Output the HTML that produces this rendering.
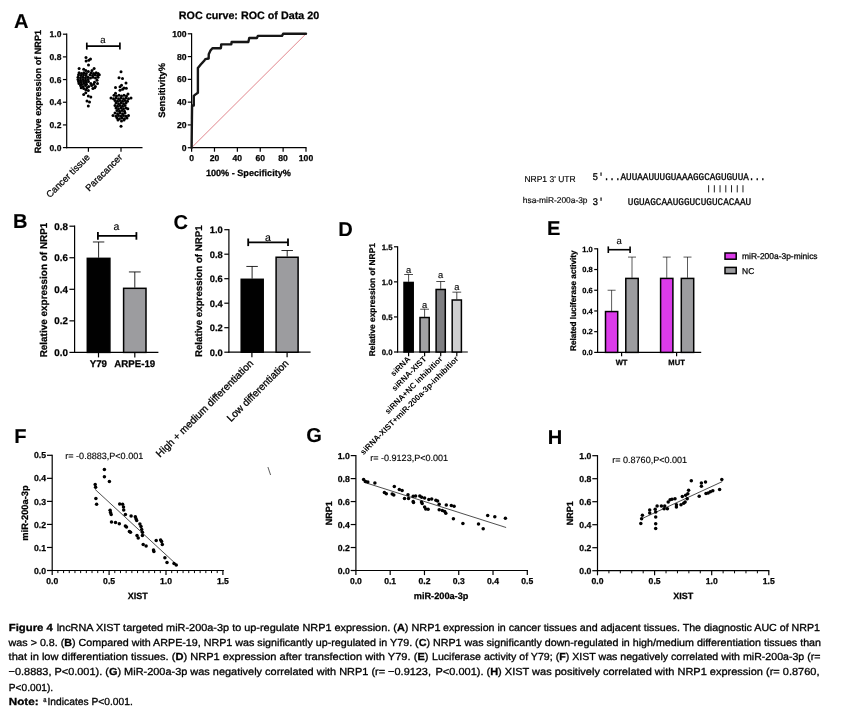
<!DOCTYPE html>
<html lang="en"><head><meta charset="utf-8"><title>Figure 4</title>
<style>html,body{margin:0;padding:0;background:#fff}body{width:846px;height:719px;overflow:hidden;position:relative}svg{position:absolute;left:0;top:0;display:block;will-change:transform;opacity:.999}text{font-family:"Liberation Sans",sans-serif;text-rendering:geometricPrecision}.mono{font-family:"Liberation Mono",monospace}</style>
</head><body>
<svg width="846" height="719" viewBox="0 0 846 719">
<rect x="0" y="0" width="846" height="719" fill="#fff"/>
<defs><filter id="soft" x="0" y="0" width="846" height="719" filterUnits="userSpaceOnUse"><feGaussianBlur stdDeviation="0.38"/></filter></defs>
<g filter="url(#soft)">
<text x="13.90" y="27.80" font-size="20.1" font-weight="bold" text-anchor="start" fill="#000" stroke="#000" stroke-width="0.12" >A</text>
<text x="12.90" y="227.60" font-size="20.1" font-weight="bold" text-anchor="start" fill="#000" stroke="#000" stroke-width="0.12" >B</text>
<text x="173.50" y="228.60" font-size="20.1" font-weight="bold" text-anchor="start" fill="#000" stroke="#000" stroke-width="0.12" >C</text>
<text x="338.30" y="236.00" font-size="20.1" font-weight="bold" text-anchor="start" fill="#000" stroke="#000" stroke-width="0.12" >D</text>
<text x="547.10" y="234.80" font-size="20.1" font-weight="bold" text-anchor="start" fill="#000" stroke="#000" stroke-width="0.12" >E</text>
<text x="14.30" y="443.00" font-size="20.1" font-weight="bold" text-anchor="start" fill="#000" stroke="#000" stroke-width="0.12" >F</text>
<text x="306.20" y="442.20" font-size="20.1" font-weight="bold" text-anchor="start" fill="#000" stroke="#000" stroke-width="0.12" >G</text>
<text x="547.70" y="444.20" font-size="20.1" font-weight="bold" text-anchor="start" fill="#000" stroke="#000" stroke-width="0.12" >H</text>
<line x1="66.70" y1="148.20" x2="66.70" y2="33.60" stroke="#000" stroke-width="1.2" stroke-linecap="butt"/>
<line x1="62.90" y1="147.60" x2="66.70" y2="147.60" stroke="#000" stroke-width="1.2" stroke-linecap="butt"/>
<text x="61.40" y="150.66" font-size="8.5" font-weight="bold" text-anchor="end" fill="#000" stroke="#000" stroke-width="0.25" >0.0</text>
<line x1="62.90" y1="124.92" x2="66.70" y2="124.92" stroke="#000" stroke-width="1.2" stroke-linecap="butt"/>
<text x="61.40" y="127.98" font-size="8.5" font-weight="bold" text-anchor="end" fill="#000" stroke="#000" stroke-width="0.25" >0.2</text>
<line x1="62.90" y1="102.24" x2="66.70" y2="102.24" stroke="#000" stroke-width="1.2" stroke-linecap="butt"/>
<text x="61.40" y="105.30" font-size="8.5" font-weight="bold" text-anchor="end" fill="#000" stroke="#000" stroke-width="0.25" >0.4</text>
<line x1="62.90" y1="79.56" x2="66.70" y2="79.56" stroke="#000" stroke-width="1.2" stroke-linecap="butt"/>
<text x="61.40" y="82.62" font-size="8.5" font-weight="bold" text-anchor="end" fill="#000" stroke="#000" stroke-width="0.25" >0.6</text>
<line x1="62.90" y1="56.88" x2="66.70" y2="56.88" stroke="#000" stroke-width="1.2" stroke-linecap="butt"/>
<text x="61.40" y="59.94" font-size="8.5" font-weight="bold" text-anchor="end" fill="#000" stroke="#000" stroke-width="0.25" >0.8</text>
<line x1="62.90" y1="34.20" x2="66.70" y2="34.20" stroke="#000" stroke-width="1.2" stroke-linecap="butt"/>
<text x="61.40" y="37.26" font-size="8.5" font-weight="bold" text-anchor="end" fill="#000" stroke="#000" stroke-width="0.25" >1.0</text>
<line x1="66.10" y1="147.60" x2="142.50" y2="147.60" stroke="#000" stroke-width="1.2" stroke-linecap="butt"/>
<line x1="88.40" y1="147.60" x2="88.40" y2="151.80" stroke="#000" stroke-width="1.2" stroke-linecap="butt"/>
<line x1="121.00" y1="147.60" x2="121.00" y2="151.80" stroke="#000" stroke-width="1.2" stroke-linecap="butt"/>
<text x="41.00" y="91.60" font-size="9.1" font-weight="bold" text-anchor="middle" transform="rotate(-90 41.00 91.60)" fill="#000" stroke="#000" stroke-width="0.25" >Relative expression of NRP1</text>
<line x1="86.80" y1="46.10" x2="119.90" y2="46.10" stroke="#000" stroke-width="1.7" stroke-linecap="butt"/>
<line x1="86.80" y1="42.60" x2="86.80" y2="49.60" stroke="#000" stroke-width="1.7" stroke-linecap="butt"/>
<line x1="119.90" y1="42.60" x2="119.90" y2="49.60" stroke="#000" stroke-width="1.7" stroke-linecap="butt"/>
<text x="102.90" y="43.00" font-size="9.5" text-anchor="middle" fill="#000" stroke="#000" stroke-width="0.15" >a</text>
<text x="90.40" y="157.90" font-size="9.35" text-anchor="end" transform="rotate(-45 90.40 157.90)" fill="#000" stroke="#000" stroke-width="0.25" >Cancer tissue</text>
<text x="123.00" y="157.90" font-size="9.35" text-anchor="end" transform="rotate(-45 123.00 157.90)" fill="#000" stroke="#000" stroke-width="0.25" >Paracancer</text>
<circle cx="86.00" cy="57.40" r="1.5" fill="#000"/>
<circle cx="90.50" cy="58.90" r="1.5" fill="#000"/>
<circle cx="88.80" cy="60.30" r="1.5" fill="#000"/>
<circle cx="86.10" cy="61.10" r="1.5" fill="#000"/>
<circle cx="88.50" cy="64.90" r="1.5" fill="#000"/>
<circle cx="79.10" cy="68.50" r="1.5" fill="#000"/>
<circle cx="83.70" cy="69.30" r="1.5" fill="#000"/>
<circle cx="94.10" cy="68.50" r="1.5" fill="#000"/>
<circle cx="85.80" cy="70.60" r="1.5" fill="#000"/>
<circle cx="88.30" cy="71.40" r="1.5" fill="#000"/>
<circle cx="92.00" cy="70.60" r="1.5" fill="#000"/>
<circle cx="79.10" cy="72.70" r="1.5" fill="#000"/>
<circle cx="81.50" cy="73.50" r="1.5" fill="#000"/>
<circle cx="83.90" cy="72.70" r="1.5" fill="#000"/>
<circle cx="86.30" cy="73.50" r="1.5" fill="#000"/>
<circle cx="91.20" cy="72.70" r="1.5" fill="#000"/>
<circle cx="93.70" cy="73.50" r="1.5" fill="#000"/>
<circle cx="96.10" cy="72.70" r="1.5" fill="#000"/>
<circle cx="98.10" cy="73.50" r="1.5" fill="#000"/>
<circle cx="78.50" cy="74.80" r="1.5" fill="#000"/>
<circle cx="81.00" cy="75.60" r="1.5" fill="#000"/>
<circle cx="83.50" cy="74.80" r="1.5" fill="#000"/>
<circle cx="86.00" cy="75.60" r="1.5" fill="#000"/>
<circle cx="90.00" cy="74.80" r="1.5" fill="#000"/>
<circle cx="92.50" cy="75.60" r="1.5" fill="#000"/>
<circle cx="95.00" cy="74.80" r="1.5" fill="#000"/>
<circle cx="97.50" cy="75.60" r="1.5" fill="#000"/>
<circle cx="99.30" cy="74.80" r="1.5" fill="#000"/>
<circle cx="78.00" cy="77.20" r="1.5" fill="#000"/>
<circle cx="80.50" cy="78.00" r="1.5" fill="#000"/>
<circle cx="83.00" cy="77.20" r="1.5" fill="#000"/>
<circle cx="85.50" cy="78.00" r="1.5" fill="#000"/>
<circle cx="88.00" cy="77.20" r="1.5" fill="#000"/>
<circle cx="90.50" cy="78.00" r="1.5" fill="#000"/>
<circle cx="93.00" cy="77.20" r="1.5" fill="#000"/>
<circle cx="95.50" cy="78.00" r="1.5" fill="#000"/>
<circle cx="98.00" cy="77.20" r="1.5" fill="#000"/>
<circle cx="78.00" cy="79.40" r="1.5" fill="#000"/>
<circle cx="80.50" cy="80.20" r="1.5" fill="#000"/>
<circle cx="83.00" cy="79.40" r="1.5" fill="#000"/>
<circle cx="85.50" cy="80.20" r="1.5" fill="#000"/>
<circle cx="88.00" cy="79.40" r="1.5" fill="#000"/>
<circle cx="97.00" cy="80.20" r="1.5" fill="#000"/>
<circle cx="78.50" cy="81.40" r="1.5" fill="#000"/>
<circle cx="81.00" cy="82.20" r="1.5" fill="#000"/>
<circle cx="83.50" cy="81.40" r="1.5" fill="#000"/>
<circle cx="86.00" cy="82.20" r="1.5" fill="#000"/>
<circle cx="88.50" cy="81.40" r="1.5" fill="#000"/>
<circle cx="94.50" cy="82.20" r="1.5" fill="#000"/>
<circle cx="79.00" cy="83.50" r="1.5" fill="#000"/>
<circle cx="81.50" cy="84.30" r="1.5" fill="#000"/>
<circle cx="84.00" cy="83.50" r="1.5" fill="#000"/>
<circle cx="86.50" cy="84.30" r="1.5" fill="#000"/>
<circle cx="90.80" cy="83.50" r="1.5" fill="#000"/>
<circle cx="93.70" cy="84.30" r="1.5" fill="#000"/>
<circle cx="97.50" cy="83.50" r="1.5" fill="#000"/>
<circle cx="80.50" cy="85.60" r="1.5" fill="#000"/>
<circle cx="83.00" cy="86.40" r="1.5" fill="#000"/>
<circle cx="85.50" cy="85.60" r="1.5" fill="#000"/>
<circle cx="88.70" cy="86.40" r="1.5" fill="#000"/>
<circle cx="91.60" cy="85.60" r="1.5" fill="#000"/>
<circle cx="95.40" cy="86.40" r="1.5" fill="#000"/>
<circle cx="81.20" cy="87.70" r="1.5" fill="#000"/>
<circle cx="83.70" cy="88.50" r="1.5" fill="#000"/>
<circle cx="87.00" cy="87.70" r="1.5" fill="#000"/>
<circle cx="92.90" cy="88.50" r="1.5" fill="#000"/>
<circle cx="94.70" cy="87.70" r="1.5" fill="#000"/>
<circle cx="85.80" cy="89.80" r="1.5" fill="#000"/>
<circle cx="88.30" cy="90.60" r="1.5" fill="#000"/>
<circle cx="85.80" cy="92.70" r="1.5" fill="#000"/>
<circle cx="83.70" cy="94.40" r="1.5" fill="#000"/>
<circle cx="88.30" cy="96.10" r="1.5" fill="#000"/>
<circle cx="90.80" cy="96.90" r="1.5" fill="#000"/>
<circle cx="87.00" cy="101.10" r="1.5" fill="#000"/>
<circle cx="89.50" cy="101.90" r="1.5" fill="#000"/>
<circle cx="88.30" cy="106.10" r="1.5" fill="#000"/>
<circle cx="121.00" cy="71.70" r="1.5" fill="#000"/>
<circle cx="119.00" cy="77.70" r="1.5" fill="#000"/>
<circle cx="122.50" cy="78.50" r="1.5" fill="#000"/>
<circle cx="126.00" cy="83.00" r="1.5" fill="#000"/>
<circle cx="121.50" cy="85.20" r="1.5" fill="#000"/>
<circle cx="115.50" cy="87.50" r="1.5" fill="#000"/>
<circle cx="120.00" cy="86.70" r="1.5" fill="#000"/>
<circle cx="124.00" cy="87.90" r="1.5" fill="#000"/>
<circle cx="126.30" cy="88.30" r="1.5" fill="#000"/>
<circle cx="120.00" cy="90.20" r="1.5" fill="#000"/>
<circle cx="122.60" cy="89.30" r="1.5" fill="#000"/>
<circle cx="115.50" cy="93.30" r="1.5" fill="#000"/>
<circle cx="128.00" cy="94.10" r="1.5" fill="#000"/>
<circle cx="114.00" cy="95.30" r="1.5" fill="#000"/>
<circle cx="116.50" cy="96.10" r="1.5" fill="#000"/>
<circle cx="119.00" cy="95.30" r="1.5" fill="#000"/>
<circle cx="121.50" cy="96.10" r="1.5" fill="#000"/>
<circle cx="124.00" cy="95.30" r="1.5" fill="#000"/>
<circle cx="126.50" cy="96.10" r="1.5" fill="#000"/>
<circle cx="111.00" cy="98.00" r="1.5" fill="#000"/>
<circle cx="113.50" cy="98.80" r="1.5" fill="#000"/>
<circle cx="116.00" cy="98.00" r="1.5" fill="#000"/>
<circle cx="118.50" cy="98.80" r="1.5" fill="#000"/>
<circle cx="121.00" cy="98.00" r="1.5" fill="#000"/>
<circle cx="123.50" cy="98.80" r="1.5" fill="#000"/>
<circle cx="126.00" cy="98.00" r="1.5" fill="#000"/>
<circle cx="128.50" cy="98.80" r="1.5" fill="#000"/>
<circle cx="131.00" cy="98.00" r="1.5" fill="#000"/>
<circle cx="115.00" cy="100.50" r="1.5" fill="#000"/>
<circle cx="117.50" cy="101.30" r="1.5" fill="#000"/>
<circle cx="120.00" cy="100.50" r="1.5" fill="#000"/>
<circle cx="122.50" cy="101.30" r="1.5" fill="#000"/>
<circle cx="125.00" cy="100.50" r="1.5" fill="#000"/>
<circle cx="127.50" cy="101.30" r="1.5" fill="#000"/>
<circle cx="116.00" cy="103.00" r="1.5" fill="#000"/>
<circle cx="118.50" cy="103.80" r="1.5" fill="#000"/>
<circle cx="121.00" cy="103.00" r="1.5" fill="#000"/>
<circle cx="123.50" cy="103.80" r="1.5" fill="#000"/>
<circle cx="126.00" cy="103.00" r="1.5" fill="#000"/>
<circle cx="115.00" cy="105.50" r="1.5" fill="#000"/>
<circle cx="117.50" cy="106.30" r="1.5" fill="#000"/>
<circle cx="120.00" cy="105.50" r="1.5" fill="#000"/>
<circle cx="122.50" cy="106.30" r="1.5" fill="#000"/>
<circle cx="125.00" cy="105.50" r="1.5" fill="#000"/>
<circle cx="116.00" cy="108.00" r="1.5" fill="#000"/>
<circle cx="118.50" cy="108.80" r="1.5" fill="#000"/>
<circle cx="121.00" cy="108.00" r="1.5" fill="#000"/>
<circle cx="123.50" cy="108.80" r="1.5" fill="#000"/>
<circle cx="126.00" cy="108.00" r="1.5" fill="#000"/>
<circle cx="127.80" cy="108.80" r="1.5" fill="#000"/>
<circle cx="117.00" cy="110.50" r="1.5" fill="#000"/>
<circle cx="119.50" cy="111.30" r="1.5" fill="#000"/>
<circle cx="122.00" cy="110.50" r="1.5" fill="#000"/>
<circle cx="124.50" cy="111.30" r="1.5" fill="#000"/>
<circle cx="115.00" cy="113.00" r="1.5" fill="#000"/>
<circle cx="117.50" cy="113.80" r="1.5" fill="#000"/>
<circle cx="120.00" cy="113.00" r="1.5" fill="#000"/>
<circle cx="122.50" cy="113.80" r="1.5" fill="#000"/>
<circle cx="125.00" cy="113.00" r="1.5" fill="#000"/>
<circle cx="113.00" cy="115.50" r="1.5" fill="#000"/>
<circle cx="116.00" cy="116.30" r="1.5" fill="#000"/>
<circle cx="118.50" cy="115.50" r="1.5" fill="#000"/>
<circle cx="121.00" cy="116.30" r="1.5" fill="#000"/>
<circle cx="123.50" cy="115.50" r="1.5" fill="#000"/>
<circle cx="126.00" cy="116.30" r="1.5" fill="#000"/>
<circle cx="128.50" cy="115.50" r="1.5" fill="#000"/>
<circle cx="117.00" cy="118.00" r="1.5" fill="#000"/>
<circle cx="119.50" cy="118.80" r="1.5" fill="#000"/>
<circle cx="122.00" cy="118.00" r="1.5" fill="#000"/>
<circle cx="124.50" cy="118.80" r="1.5" fill="#000"/>
<circle cx="127.00" cy="118.00" r="1.5" fill="#000"/>
<circle cx="118.00" cy="120.10" r="1.5" fill="#000"/>
<circle cx="121.50" cy="120.90" r="1.5" fill="#000"/>
<circle cx="124.00" cy="120.10" r="1.5" fill="#000"/>
<circle cx="121.00" cy="126.20" r="1.5" fill="#000"/>
<line x1="191.60" y1="148.30" x2="191.60" y2="33.20" stroke="#000" stroke-width="1.2" stroke-linecap="butt"/>
<line x1="191.00" y1="147.70" x2="306.60" y2="147.70" stroke="#000" stroke-width="1.2" stroke-linecap="butt"/>
<line x1="187.80" y1="147.70" x2="191.60" y2="147.70" stroke="#000" stroke-width="1.2" stroke-linecap="butt"/>
<text x="186.60" y="150.80" font-size="8.6" font-weight="bold" text-anchor="end" fill="#000" stroke="#000" stroke-width="0.25" >0</text>
<line x1="191.60" y1="147.70" x2="191.60" y2="151.70" stroke="#000" stroke-width="1.2" stroke-linecap="butt"/>
<text x="191.60" y="161.30" font-size="8.6" font-weight="bold" text-anchor="middle" fill="#000" stroke="#000" stroke-width="0.25" >0</text>
<line x1="187.80" y1="124.92" x2="191.60" y2="124.92" stroke="#000" stroke-width="1.2" stroke-linecap="butt"/>
<text x="186.60" y="128.02" font-size="8.6" font-weight="bold" text-anchor="end" fill="#000" stroke="#000" stroke-width="0.25" >20</text>
<line x1="214.48" y1="147.70" x2="214.48" y2="151.70" stroke="#000" stroke-width="1.2" stroke-linecap="butt"/>
<text x="214.48" y="161.30" font-size="8.6" font-weight="bold" text-anchor="middle" fill="#000" stroke="#000" stroke-width="0.25" >20</text>
<line x1="187.80" y1="102.14" x2="191.60" y2="102.14" stroke="#000" stroke-width="1.2" stroke-linecap="butt"/>
<text x="186.60" y="105.24" font-size="8.6" font-weight="bold" text-anchor="end" fill="#000" stroke="#000" stroke-width="0.25" >40</text>
<line x1="237.36" y1="147.70" x2="237.36" y2="151.70" stroke="#000" stroke-width="1.2" stroke-linecap="butt"/>
<text x="237.36" y="161.30" font-size="8.6" font-weight="bold" text-anchor="middle" fill="#000" stroke="#000" stroke-width="0.25" >40</text>
<line x1="187.80" y1="79.36" x2="191.60" y2="79.36" stroke="#000" stroke-width="1.2" stroke-linecap="butt"/>
<text x="186.60" y="82.46" font-size="8.6" font-weight="bold" text-anchor="end" fill="#000" stroke="#000" stroke-width="0.25" >60</text>
<line x1="260.24" y1="147.70" x2="260.24" y2="151.70" stroke="#000" stroke-width="1.2" stroke-linecap="butt"/>
<text x="260.24" y="161.30" font-size="8.6" font-weight="bold" text-anchor="middle" fill="#000" stroke="#000" stroke-width="0.25" >60</text>
<line x1="187.80" y1="56.58" x2="191.60" y2="56.58" stroke="#000" stroke-width="1.2" stroke-linecap="butt"/>
<text x="186.60" y="59.68" font-size="8.6" font-weight="bold" text-anchor="end" fill="#000" stroke="#000" stroke-width="0.25" >80</text>
<line x1="283.12" y1="147.70" x2="283.12" y2="151.70" stroke="#000" stroke-width="1.2" stroke-linecap="butt"/>
<text x="283.12" y="161.30" font-size="8.6" font-weight="bold" text-anchor="middle" fill="#000" stroke="#000" stroke-width="0.25" >80</text>
<line x1="187.80" y1="33.80" x2="191.60" y2="33.80" stroke="#000" stroke-width="1.2" stroke-linecap="butt"/>
<text x="186.60" y="36.90" font-size="8.6" font-weight="bold" text-anchor="end" fill="#000" stroke="#000" stroke-width="0.25" >100</text>
<line x1="306.00" y1="147.70" x2="306.00" y2="151.70" stroke="#000" stroke-width="1.2" stroke-linecap="butt"/>
<text x="306.00" y="161.30" font-size="8.6" font-weight="bold" text-anchor="middle" fill="#000" stroke="#000" stroke-width="0.25" >100</text>
<text x="249.00" y="19.40" font-size="10.75" font-weight="bold" text-anchor="middle" fill="#000" stroke="#000" stroke-width="0.25" >ROC curve: ROC of Data 20</text>
<text x="248.40" y="175.80" font-size="9.1" font-weight="bold" text-anchor="middle" fill="#000" stroke="#000" stroke-width="0.25" >100% - Specificity%</text>
<text x="164.80" y="90.40" font-size="9.3" font-weight="bold" text-anchor="middle" transform="rotate(-90 164.80 90.40)" fill="#000" stroke="#000" stroke-width="0.25" >Sensitivity%</text>
<line x1="191.60" y1="147.70" x2="306.00" y2="33.80" stroke="#de7880" stroke-width="0.9" stroke-linecap="butt"/>
<polyline points="191.60,147.70 192.06,105.56 193.77,105.56 193.77,95.88 195.26,94.62 197.89,92.80 197.89,67.97 200.75,64.55 204.41,60.45 205.33,59.09 208.65,58.52 208.76,54.30 210.48,50.54 212.42,48.27 220.89,48.27 221.23,44.39 231.30,44.39 231.64,42.00 248.34,42.00 249.26,38.01 256.92,38.01 257.84,35.85 281.98,35.85 283.12,33.80 306.00,33.80" fill="none" stroke="#151515" stroke-width="2.4" stroke-linejoin="round" stroke-linecap="round"/>
<line x1="74.60" y1="353.00" x2="74.60" y2="225.60" stroke="#000" stroke-width="1.2" stroke-linecap="butt"/>
<line x1="69.40" y1="352.40" x2="74.60" y2="352.40" stroke="#000" stroke-width="1.2" stroke-linecap="butt"/>
<text x="67.90" y="355.93" font-size="9.8" font-weight="bold" text-anchor="end" fill="#000" stroke="#000" stroke-width="0.25" >0.0</text>
<line x1="69.40" y1="320.85" x2="74.60" y2="320.85" stroke="#000" stroke-width="1.2" stroke-linecap="butt"/>
<text x="67.90" y="324.38" font-size="9.8" font-weight="bold" text-anchor="end" fill="#000" stroke="#000" stroke-width="0.25" >0.2</text>
<line x1="69.40" y1="289.30" x2="74.60" y2="289.30" stroke="#000" stroke-width="1.2" stroke-linecap="butt"/>
<text x="67.90" y="292.83" font-size="9.8" font-weight="bold" text-anchor="end" fill="#000" stroke="#000" stroke-width="0.25" >0.4</text>
<line x1="69.40" y1="257.75" x2="74.60" y2="257.75" stroke="#000" stroke-width="1.2" stroke-linecap="butt"/>
<text x="67.90" y="261.28" font-size="9.8" font-weight="bold" text-anchor="end" fill="#000" stroke="#000" stroke-width="0.25" >0.6</text>
<line x1="69.40" y1="226.20" x2="74.60" y2="226.20" stroke="#000" stroke-width="1.2" stroke-linecap="butt"/>
<text x="67.90" y="229.73" font-size="9.8" font-weight="bold" text-anchor="end" fill="#000" stroke="#000" stroke-width="0.25" >0.8</text>
<line x1="74.00" y1="352.40" x2="158.40" y2="352.40" stroke="#000" stroke-width="1.2" stroke-linecap="butt"/>
<line x1="98.50" y1="352.40" x2="98.50" y2="357.40" stroke="#000" stroke-width="1.2" stroke-linecap="butt"/>
<line x1="134.80" y1="352.40" x2="134.80" y2="357.40" stroke="#000" stroke-width="1.2" stroke-linecap="butt"/>
<text x="46.90" y="290.00" font-size="9.95" font-weight="bold" text-anchor="middle" transform="rotate(-90 46.90 290.00)" fill="#000" stroke="#000" stroke-width="0.25" >Relative expression of NRP1</text>
<line x1="98.60" y1="257.75" x2="98.60" y2="241.97" stroke="#000" stroke-width="0.85" stroke-linecap="butt"/>
<line x1="92.90" y1="241.97" x2="104.30" y2="241.97" stroke="#000" stroke-width="0.85" stroke-linecap="butt"/>
<line x1="134.80" y1="287.72" x2="134.80" y2="271.95" stroke="#000" stroke-width="0.85" stroke-linecap="butt"/>
<line x1="128.90" y1="271.95" x2="140.70" y2="271.95" stroke="#000" stroke-width="0.85" stroke-linecap="butt"/>
<rect x="87.30" y="258.35" width="22.60" height="94.05" fill="#000" stroke="#000" stroke-width="1.5"/>
<rect x="123.60" y="288.32" width="22.40" height="64.08" fill="#9c9c9f" stroke="#000" stroke-width="1.5"/>
<line x1="97.90" y1="235.90" x2="136.40" y2="235.90" stroke="#000" stroke-width="1.8" stroke-linecap="butt"/>
<line x1="97.90" y1="232.10" x2="97.90" y2="239.70" stroke="#000" stroke-width="1.8" stroke-linecap="butt"/>
<line x1="136.40" y1="232.10" x2="136.40" y2="239.70" stroke="#000" stroke-width="1.8" stroke-linecap="butt"/>
<text x="116.40" y="230.00" font-size="10.5" text-anchor="middle" fill="#000" stroke="#000" stroke-width="0.15" >a</text>
<text x="98.40" y="367.40" font-size="9.7" font-weight="bold" text-anchor="middle" fill="#000" stroke="#000" stroke-width="0.25" >Y79</text>
<text x="134.70" y="367.40" font-size="9.7" font-weight="bold" text-anchor="middle" fill="#000" stroke="#000" stroke-width="0.25" >ARPE-19</text>
<line x1="228.90" y1="352.80" x2="228.90" y2="229.10" stroke="#000" stroke-width="1.2" stroke-linecap="butt"/>
<line x1="224.30" y1="352.20" x2="228.90" y2="352.20" stroke="#000" stroke-width="1.2" stroke-linecap="butt"/>
<text x="222.80" y="355.58" font-size="9.4" font-weight="bold" text-anchor="end" fill="#000" stroke="#000" stroke-width="0.25" >0.0</text>
<line x1="224.30" y1="327.70" x2="228.90" y2="327.70" stroke="#000" stroke-width="1.2" stroke-linecap="butt"/>
<text x="222.80" y="331.08" font-size="9.4" font-weight="bold" text-anchor="end" fill="#000" stroke="#000" stroke-width="0.25" >0.2</text>
<line x1="224.30" y1="303.20" x2="228.90" y2="303.20" stroke="#000" stroke-width="1.2" stroke-linecap="butt"/>
<text x="222.80" y="306.58" font-size="9.4" font-weight="bold" text-anchor="end" fill="#000" stroke="#000" stroke-width="0.25" >0.4</text>
<line x1="224.30" y1="278.70" x2="228.90" y2="278.70" stroke="#000" stroke-width="1.2" stroke-linecap="butt"/>
<text x="222.80" y="282.08" font-size="9.4" font-weight="bold" text-anchor="end" fill="#000" stroke="#000" stroke-width="0.25" >0.6</text>
<line x1="224.30" y1="254.20" x2="228.90" y2="254.20" stroke="#000" stroke-width="1.2" stroke-linecap="butt"/>
<text x="222.80" y="257.58" font-size="9.4" font-weight="bold" text-anchor="end" fill="#000" stroke="#000" stroke-width="0.25" >0.8</text>
<line x1="224.30" y1="229.70" x2="228.90" y2="229.70" stroke="#000" stroke-width="1.2" stroke-linecap="butt"/>
<text x="222.80" y="233.08" font-size="9.4" font-weight="bold" text-anchor="end" fill="#000" stroke="#000" stroke-width="0.25" >1.0</text>
<line x1="228.30" y1="352.20" x2="310.60" y2="352.20" stroke="#000" stroke-width="1.2" stroke-linecap="butt"/>
<line x1="251.90" y1="352.20" x2="251.90" y2="357.20" stroke="#000" stroke-width="1.2" stroke-linecap="butt"/>
<line x1="287.10" y1="352.20" x2="287.10" y2="357.20" stroke="#000" stroke-width="1.2" stroke-linecap="butt"/>
<text x="201.80" y="291.20" font-size="9.72" font-weight="bold" text-anchor="middle" transform="rotate(-90 201.80 291.20)" fill="#000" stroke="#000" stroke-width="0.25" >Relative expression of NRP1</text>
<line x1="252.10" y1="278.70" x2="252.10" y2="266.45" stroke="#000" stroke-width="0.85" stroke-linecap="butt"/>
<line x1="246.35" y1="266.45" x2="257.85" y2="266.45" stroke="#000" stroke-width="0.85" stroke-linecap="butt"/>
<line x1="287.20" y1="256.65" x2="287.20" y2="250.53" stroke="#000" stroke-width="0.85" stroke-linecap="butt"/>
<line x1="281.45" y1="250.53" x2="292.95" y2="250.53" stroke="#000" stroke-width="0.85" stroke-linecap="butt"/>
<rect x="241.20" y="279.30" width="22.00" height="72.90" fill="#000" stroke="#000" stroke-width="1.5"/>
<rect x="276.10" y="257.25" width="22.00" height="94.95" fill="#9c9c9f" stroke="#000" stroke-width="1.5"/>
<line x1="248.20" y1="242.30" x2="288.00" y2="242.30" stroke="#000" stroke-width="1.8" stroke-linecap="butt"/>
<line x1="248.20" y1="238.50" x2="248.20" y2="246.10" stroke="#000" stroke-width="1.8" stroke-linecap="butt"/>
<line x1="288.00" y1="238.50" x2="288.00" y2="246.10" stroke="#000" stroke-width="1.8" stroke-linecap="butt"/>
<text x="267.90" y="241.20" font-size="10.5" text-anchor="middle" fill="#000" stroke="#000" stroke-width="0.15" >a</text>
<text x="253.90" y="364.00" font-size="10.2" text-anchor="end" transform="rotate(-45 253.90 364.00)" fill="#000" stroke="#000" stroke-width="0.3" >High + medium differentiation</text>
<text x="289.30" y="364.00" font-size="10.2" text-anchor="end" transform="rotate(-45 289.30 364.00)" fill="#000" stroke="#000" stroke-width="0.3" >Low differentiation</text>
<line x1="267.90" y1="467.00" x2="270.60" y2="475.00" stroke="#333" stroke-width="0.8" stroke-linecap="butt"/>
<line x1="397.60" y1="352.60" x2="397.60" y2="246.19" stroke="#000" stroke-width="1.2" stroke-linecap="butt"/>
<line x1="394.00" y1="352.00" x2="397.60" y2="352.00" stroke="#000" stroke-width="1.2" stroke-linecap="butt"/>
<text x="392.50" y="354.81" font-size="7.8" font-weight="bold" text-anchor="end" fill="#000" stroke="#000" stroke-width="0.25" >0.0</text>
<line x1="394.00" y1="316.93" x2="397.60" y2="316.93" stroke="#000" stroke-width="1.2" stroke-linecap="butt"/>
<text x="392.50" y="319.74" font-size="7.8" font-weight="bold" text-anchor="end" fill="#000" stroke="#000" stroke-width="0.25" >0.5</text>
<line x1="394.00" y1="281.86" x2="397.60" y2="281.86" stroke="#000" stroke-width="1.2" stroke-linecap="butt"/>
<text x="392.50" y="284.67" font-size="7.8" font-weight="bold" text-anchor="end" fill="#000" stroke="#000" stroke-width="0.25" >1.0</text>
<line x1="394.00" y1="246.79" x2="397.60" y2="246.79" stroke="#000" stroke-width="1.2" stroke-linecap="butt"/>
<text x="392.50" y="249.60" font-size="7.8" font-weight="bold" text-anchor="end" fill="#000" stroke="#000" stroke-width="0.25" >1.5</text>
<line x1="397.00" y1="352.00" x2="467.80" y2="352.00" stroke="#000" stroke-width="1.2" stroke-linecap="butt"/>
<line x1="408.60" y1="352.00" x2="408.60" y2="356.20" stroke="#000" stroke-width="1.2" stroke-linecap="butt"/>
<line x1="424.60" y1="352.00" x2="424.60" y2="356.20" stroke="#000" stroke-width="1.2" stroke-linecap="butt"/>
<line x1="440.70" y1="352.00" x2="440.70" y2="356.20" stroke="#000" stroke-width="1.2" stroke-linecap="butt"/>
<line x1="456.80" y1="352.00" x2="456.80" y2="356.20" stroke="#000" stroke-width="1.2" stroke-linecap="butt"/>
<text x="374.70" y="299.70" font-size="8.35" font-weight="bold" text-anchor="middle" transform="rotate(-90 374.70 299.70)" fill="#000" stroke="#000" stroke-width="0.25" >Relative expression of NRP1</text>
<line x1="408.60" y1="281.86" x2="408.60" y2="274.50" stroke="#000" stroke-width="0.7" stroke-linecap="butt"/>
<line x1="404.20" y1="274.50" x2="413.00" y2="274.50" stroke="#000" stroke-width="0.7" stroke-linecap="butt"/>
<rect x="404.00" y="282.46" width="9.20" height="69.54" fill="#000" stroke="#000" stroke-width="1.5"/>
<text x="408.60" y="272.90" font-size="9.3" text-anchor="middle" fill="#000" stroke="#000" stroke-width="0.15" >a</text>
<line x1="424.60" y1="316.93" x2="424.60" y2="309.21" stroke="#000" stroke-width="0.7" stroke-linecap="butt"/>
<line x1="420.20" y1="309.21" x2="429.00" y2="309.21" stroke="#000" stroke-width="0.7" stroke-linecap="butt"/>
<rect x="420.00" y="317.53" width="9.20" height="34.47" fill="#a1a1a4" stroke="#000" stroke-width="1.5"/>
<text x="424.60" y="308.10" font-size="9.3" text-anchor="middle" fill="#000" stroke="#000" stroke-width="0.15" >a</text>
<line x1="440.70" y1="288.87" x2="440.70" y2="281.51" stroke="#000" stroke-width="0.7" stroke-linecap="butt"/>
<line x1="436.30" y1="281.51" x2="445.10" y2="281.51" stroke="#000" stroke-width="0.7" stroke-linecap="butt"/>
<rect x="436.10" y="289.47" width="9.20" height="62.53" fill="#7f7f82" stroke="#000" stroke-width="1.5"/>
<text x="440.70" y="278.10" font-size="9.3" text-anchor="middle" fill="#000" stroke="#000" stroke-width="0.15" >a</text>
<line x1="456.80" y1="299.39" x2="456.80" y2="292.17" stroke="#000" stroke-width="0.7" stroke-linecap="butt"/>
<line x1="452.40" y1="292.17" x2="461.20" y2="292.17" stroke="#000" stroke-width="0.7" stroke-linecap="butt"/>
<rect x="452.20" y="300.00" width="9.20" height="52.01" fill="#cfcfd0" stroke="#000" stroke-width="1.5"/>
<text x="456.80" y="290.00" font-size="9.3" text-anchor="middle" fill="#000" stroke="#000" stroke-width="0.15" >a</text>
<text x="410.90" y="359.60" font-size="8.1" font-weight="bold" text-anchor="end" transform="rotate(-45 410.90 359.60)" fill="#000" >siRNA</text>
<text x="426.90" y="359.60" font-size="8.1" font-weight="bold" text-anchor="end" transform="rotate(-45 426.90 359.60)" fill="#000" >siRNA-XIST</text>
<text x="443.00" y="359.60" font-size="8.1" font-weight="bold" text-anchor="end" transform="rotate(-45 443.00 359.60)" fill="#000" >siRNA+NC inhibitior</text>
<text x="459.10" y="359.60" font-size="8.1" font-weight="bold" text-anchor="end" transform="rotate(-45 459.10 359.60)" fill="#000" >siRNA-XIST+miR-200a-3p-inhibitior</text>
<text x="524.40" y="182.30" font-size="8.5" text-anchor="start" fill="#000" stroke="#000" stroke-width="0.15" >NRP1 3' UTR</text>
<text x="522.80" y="203.00" font-size="8.4" text-anchor="start" fill="#000" stroke="#000" stroke-width="0.15" >hsa-miR-200a-3p</text>
<text class="mono" x="592.60" y="179.90" font-size="10.2" textLength="173.00" lengthAdjust="spacingAndGlyphs" fill="#000" stroke="#000" stroke-width="0.3">5'...AUUAAUUUGUAAAGGCAGUGUUA...</text>
<text class="mono" x="592.60" y="205.00" font-size="10.2" textLength="11.20" lengthAdjust="spacingAndGlyphs" fill="#000" stroke="#000" stroke-width="0.3">3'</text>
<text class="mono" x="627.80" y="205.00" font-size="10.2" textLength="123.40" lengthAdjust="spacingAndGlyphs" fill="#000" stroke="#000" stroke-width="0.3">UGUAGCAAUGGUCUGUCACAAU</text>
<line x1="708.60" y1="185.20" x2="708.60" y2="192.40" stroke="#222" stroke-width="1.0" stroke-linecap="butt"/>
<line x1="714.33" y1="185.20" x2="714.33" y2="192.40" stroke="#222" stroke-width="1.0" stroke-linecap="butt"/>
<line x1="720.06" y1="185.20" x2="720.06" y2="192.40" stroke="#222" stroke-width="1.0" stroke-linecap="butt"/>
<line x1="725.79" y1="185.20" x2="725.79" y2="192.40" stroke="#222" stroke-width="1.0" stroke-linecap="butt"/>
<line x1="731.52" y1="185.20" x2="731.52" y2="192.40" stroke="#222" stroke-width="1.0" stroke-linecap="butt"/>
<line x1="737.25" y1="185.20" x2="737.25" y2="192.40" stroke="#222" stroke-width="1.0" stroke-linecap="butt"/>
<line x1="742.98" y1="185.20" x2="742.98" y2="192.40" stroke="#222" stroke-width="1.0" stroke-linecap="butt"/>
<line x1="597.60" y1="353.00" x2="597.60" y2="248.20" stroke="#000" stroke-width="1.2" stroke-linecap="butt"/>
<line x1="594.20" y1="352.40" x2="597.60" y2="352.40" stroke="#000" stroke-width="1.2" stroke-linecap="butt"/>
<text x="592.70" y="355.10" font-size="7.5" font-weight="bold" text-anchor="end" fill="#000" stroke="#000" stroke-width="0.25" >0.0</text>
<line x1="594.20" y1="331.68" x2="597.60" y2="331.68" stroke="#000" stroke-width="1.2" stroke-linecap="butt"/>
<text x="592.70" y="334.38" font-size="7.5" font-weight="bold" text-anchor="end" fill="#000" stroke="#000" stroke-width="0.25" >0.2</text>
<line x1="594.20" y1="310.96" x2="597.60" y2="310.96" stroke="#000" stroke-width="1.2" stroke-linecap="butt"/>
<text x="592.70" y="313.66" font-size="7.5" font-weight="bold" text-anchor="end" fill="#000" stroke="#000" stroke-width="0.25" >0.4</text>
<line x1="594.20" y1="290.24" x2="597.60" y2="290.24" stroke="#000" stroke-width="1.2" stroke-linecap="butt"/>
<text x="592.70" y="292.94" font-size="7.5" font-weight="bold" text-anchor="end" fill="#000" stroke="#000" stroke-width="0.25" >0.6</text>
<line x1="594.20" y1="269.52" x2="597.60" y2="269.52" stroke="#000" stroke-width="1.2" stroke-linecap="butt"/>
<text x="592.70" y="272.22" font-size="7.5" font-weight="bold" text-anchor="end" fill="#000" stroke="#000" stroke-width="0.25" >0.8</text>
<line x1="594.20" y1="248.80" x2="597.60" y2="248.80" stroke="#000" stroke-width="1.2" stroke-linecap="butt"/>
<text x="592.70" y="251.50" font-size="7.5" font-weight="bold" text-anchor="end" fill="#000" stroke="#000" stroke-width="0.25" >1.0</text>
<line x1="597.00" y1="352.40" x2="701.20" y2="352.40" stroke="#000" stroke-width="1.2" stroke-linecap="butt"/>
<line x1="621.60" y1="352.40" x2="621.60" y2="356.20" stroke="#000" stroke-width="1.2" stroke-linecap="butt"/>
<line x1="676.60" y1="352.40" x2="676.60" y2="356.20" stroke="#000" stroke-width="1.2" stroke-linecap="butt"/>
<text x="576.20" y="300.70" font-size="8.2" font-weight="bold" text-anchor="middle" transform="rotate(-90 576.20 300.70)" fill="#000" stroke="#000" stroke-width="0.25" >Related luciferase activity</text>
<line x1="611.60" y1="310.96" x2="611.60" y2="290.24" stroke="#000" stroke-width="0.65" stroke-linecap="butt"/>
<line x1="607.60" y1="290.24" x2="615.60" y2="290.24" stroke="#000" stroke-width="0.65" stroke-linecap="butt"/>
<rect x="605.50" y="311.56" width="12.20" height="40.84" fill="#dc3aea" stroke="#000" stroke-width="1.5"/>
<line x1="632.00" y1="277.81" x2="632.00" y2="257.09" stroke="#000" stroke-width="0.65" stroke-linecap="butt"/>
<line x1="628.00" y1="257.09" x2="636.00" y2="257.09" stroke="#000" stroke-width="0.65" stroke-linecap="butt"/>
<rect x="625.80" y="278.41" width="12.40" height="73.99" fill="#9c9c9f" stroke="#000" stroke-width="1.5"/>
<line x1="666.75" y1="277.81" x2="666.75" y2="257.09" stroke="#000" stroke-width="0.65" stroke-linecap="butt"/>
<line x1="662.75" y1="257.09" x2="670.75" y2="257.09" stroke="#000" stroke-width="0.65" stroke-linecap="butt"/>
<rect x="660.60" y="278.41" width="12.30" height="73.99" fill="#dc3aea" stroke="#000" stroke-width="1.5"/>
<line x1="687.50" y1="277.81" x2="687.50" y2="257.09" stroke="#000" stroke-width="0.65" stroke-linecap="butt"/>
<line x1="683.50" y1="257.09" x2="691.50" y2="257.09" stroke="#000" stroke-width="0.65" stroke-linecap="butt"/>
<rect x="681.30" y="278.41" width="12.40" height="73.99" fill="#9c9c9f" stroke="#000" stroke-width="1.5"/>
<line x1="608.30" y1="249.70" x2="630.10" y2="249.70" stroke="#000" stroke-width="1.6" stroke-linecap="butt"/>
<line x1="608.30" y1="246.40" x2="608.30" y2="253.00" stroke="#000" stroke-width="1.6" stroke-linecap="butt"/>
<line x1="630.10" y1="246.40" x2="630.10" y2="253.00" stroke="#000" stroke-width="1.6" stroke-linecap="butt"/>
<text x="619.10" y="244.40" font-size="9.5" text-anchor="middle" fill="#000" stroke="#000" stroke-width="0.15" >a</text>
<text x="621.60" y="364.70" font-size="7.6" font-weight="bold" text-anchor="middle" fill="#000" stroke="#000" stroke-width="0.25" >WT</text>
<text x="676.60" y="364.70" font-size="7.6" font-weight="bold" text-anchor="middle" fill="#000" stroke="#000" stroke-width="0.25" >MUT</text>
<rect x="725.00" y="253.00" width="11.20" height="6.20" fill="#dc3aea" stroke="#000" stroke-width="1.5"/>
<rect x="725.00" y="267.40" width="11.20" height="6.20" fill="#9c9c9f" stroke="#000" stroke-width="1.5"/>
<text x="742.10" y="259.00" font-size="8.45" text-anchor="start" fill="#000" stroke="#000" stroke-width="0.25" >miR-200a-3p-minics</text>
<text x="742.10" y="273.60" font-size="8.45" text-anchor="start" fill="#000" stroke="#000" stroke-width="0.25" >NC</text>
<line x1="52.20" y1="571.10" x2="52.20" y2="454.70" stroke="#000" stroke-width="1.2" stroke-linecap="butt"/>
<line x1="47.00" y1="570.50" x2="52.20" y2="570.50" stroke="#000" stroke-width="1.2" stroke-linecap="butt"/>
<text x="46.10" y="573.63" font-size="8.7" font-weight="bold" text-anchor="end" fill="#000" stroke="#000" stroke-width="0.25" >0.0</text>
<line x1="47.00" y1="547.46" x2="52.20" y2="547.46" stroke="#000" stroke-width="1.2" stroke-linecap="butt"/>
<text x="46.10" y="550.59" font-size="8.7" font-weight="bold" text-anchor="end" fill="#000" stroke="#000" stroke-width="0.25" >0.1</text>
<line x1="47.00" y1="524.42" x2="52.20" y2="524.42" stroke="#000" stroke-width="1.2" stroke-linecap="butt"/>
<text x="46.10" y="527.55" font-size="8.7" font-weight="bold" text-anchor="end" fill="#000" stroke="#000" stroke-width="0.25" >0.2</text>
<line x1="47.00" y1="501.38" x2="52.20" y2="501.38" stroke="#000" stroke-width="1.2" stroke-linecap="butt"/>
<text x="46.10" y="504.51" font-size="8.7" font-weight="bold" text-anchor="end" fill="#000" stroke="#000" stroke-width="0.25" >0.3</text>
<line x1="47.00" y1="478.34" x2="52.20" y2="478.34" stroke="#000" stroke-width="1.2" stroke-linecap="butt"/>
<text x="46.10" y="481.47" font-size="8.7" font-weight="bold" text-anchor="end" fill="#000" stroke="#000" stroke-width="0.25" >0.4</text>
<line x1="47.00" y1="455.30" x2="52.20" y2="455.30" stroke="#000" stroke-width="1.2" stroke-linecap="butt"/>
<text x="46.10" y="458.43" font-size="8.7" font-weight="bold" text-anchor="end" fill="#000" stroke="#000" stroke-width="0.25" >0.5</text>
<line x1="51.60" y1="570.50" x2="223.90" y2="570.50" stroke="#000" stroke-width="1.2" stroke-linecap="butt"/>
<line x1="52.20" y1="570.50" x2="52.20" y2="575.10" stroke="#000" stroke-width="1.2" stroke-linecap="butt"/>
<line x1="57.89" y1="570.50" x2="57.89" y2="573.10" stroke="#000" stroke-width="1.0" stroke-linecap="butt"/>
<line x1="63.58" y1="570.50" x2="63.58" y2="573.10" stroke="#000" stroke-width="1.0" stroke-linecap="butt"/>
<line x1="69.27" y1="570.50" x2="69.27" y2="573.10" stroke="#000" stroke-width="1.0" stroke-linecap="butt"/>
<line x1="74.96" y1="570.50" x2="74.96" y2="573.10" stroke="#000" stroke-width="1.0" stroke-linecap="butt"/>
<line x1="80.65" y1="570.50" x2="80.65" y2="573.10" stroke="#000" stroke-width="1.0" stroke-linecap="butt"/>
<line x1="86.34" y1="570.50" x2="86.34" y2="573.10" stroke="#000" stroke-width="1.0" stroke-linecap="butt"/>
<line x1="92.03" y1="570.50" x2="92.03" y2="573.10" stroke="#000" stroke-width="1.0" stroke-linecap="butt"/>
<line x1="97.72" y1="570.50" x2="97.72" y2="573.10" stroke="#000" stroke-width="1.0" stroke-linecap="butt"/>
<line x1="103.41" y1="570.50" x2="103.41" y2="573.10" stroke="#000" stroke-width="1.0" stroke-linecap="butt"/>
<line x1="109.10" y1="570.50" x2="109.10" y2="575.10" stroke="#000" stroke-width="1.2" stroke-linecap="butt"/>
<line x1="114.79" y1="570.50" x2="114.79" y2="573.10" stroke="#000" stroke-width="1.0" stroke-linecap="butt"/>
<line x1="120.48" y1="570.50" x2="120.48" y2="573.10" stroke="#000" stroke-width="1.0" stroke-linecap="butt"/>
<line x1="126.17" y1="570.50" x2="126.17" y2="573.10" stroke="#000" stroke-width="1.0" stroke-linecap="butt"/>
<line x1="131.86" y1="570.50" x2="131.86" y2="573.10" stroke="#000" stroke-width="1.0" stroke-linecap="butt"/>
<line x1="137.55" y1="570.50" x2="137.55" y2="573.10" stroke="#000" stroke-width="1.0" stroke-linecap="butt"/>
<line x1="143.24" y1="570.50" x2="143.24" y2="573.10" stroke="#000" stroke-width="1.0" stroke-linecap="butt"/>
<line x1="148.93" y1="570.50" x2="148.93" y2="573.10" stroke="#000" stroke-width="1.0" stroke-linecap="butt"/>
<line x1="154.62" y1="570.50" x2="154.62" y2="573.10" stroke="#000" stroke-width="1.0" stroke-linecap="butt"/>
<line x1="160.31" y1="570.50" x2="160.31" y2="573.10" stroke="#000" stroke-width="1.0" stroke-linecap="butt"/>
<line x1="166.00" y1="570.50" x2="166.00" y2="575.10" stroke="#000" stroke-width="1.2" stroke-linecap="butt"/>
<line x1="171.69" y1="570.50" x2="171.69" y2="573.10" stroke="#000" stroke-width="1.0" stroke-linecap="butt"/>
<line x1="177.38" y1="570.50" x2="177.38" y2="573.10" stroke="#000" stroke-width="1.0" stroke-linecap="butt"/>
<line x1="183.07" y1="570.50" x2="183.07" y2="573.10" stroke="#000" stroke-width="1.0" stroke-linecap="butt"/>
<line x1="188.76" y1="570.50" x2="188.76" y2="573.10" stroke="#000" stroke-width="1.0" stroke-linecap="butt"/>
<line x1="194.45" y1="570.50" x2="194.45" y2="573.10" stroke="#000" stroke-width="1.0" stroke-linecap="butt"/>
<line x1="200.14" y1="570.50" x2="200.14" y2="573.10" stroke="#000" stroke-width="1.0" stroke-linecap="butt"/>
<line x1="205.83" y1="570.50" x2="205.83" y2="573.10" stroke="#000" stroke-width="1.0" stroke-linecap="butt"/>
<line x1="211.52" y1="570.50" x2="211.52" y2="573.10" stroke="#000" stroke-width="1.0" stroke-linecap="butt"/>
<line x1="217.21" y1="570.50" x2="217.21" y2="573.10" stroke="#000" stroke-width="1.0" stroke-linecap="butt"/>
<line x1="222.90" y1="570.50" x2="222.90" y2="575.10" stroke="#000" stroke-width="1.2" stroke-linecap="butt"/>
<text x="52.20" y="584.10" font-size="8.6" font-weight="bold" text-anchor="middle" fill="#000" stroke="#000" stroke-width="0.25" >0.0</text>
<text x="109.10" y="584.10" font-size="8.6" font-weight="bold" text-anchor="middle" fill="#000" stroke="#000" stroke-width="0.25" >0.5</text>
<text x="166.00" y="584.10" font-size="8.6" font-weight="bold" text-anchor="middle" fill="#000" stroke="#000" stroke-width="0.25" >1.0</text>
<text x="222.90" y="584.10" font-size="8.6" font-weight="bold" text-anchor="middle" fill="#000" stroke="#000" stroke-width="0.25" >1.5</text>
<text x="137.70" y="599.00" font-size="9.0" font-weight="bold" text-anchor="middle" fill="#000" stroke="#000" stroke-width="0.25" >XIST</text>
<text x="28.00" y="513.00" font-size="9.3" font-weight="bold" text-anchor="middle" transform="rotate(-90 28.00 513.00)" fill="#000" stroke="#000" stroke-width="0.25" >miR-200a-3p</text>
<text x="65.30" y="458.80" font-size="9.05" text-anchor="start" fill="#000" stroke="#000" stroke-width="0.15" >r= -0.8883,P&lt;0.001</text>
<line x1="95.10" y1="489.40" x2="177.70" y2="565.60" stroke="#222" stroke-width="0.8" stroke-linecap="butt"/>
<circle cx="104.40" cy="469.60" r="1.75" fill="#000"/>
<circle cx="104.40" cy="476.70" r="1.75" fill="#000"/>
<circle cx="109.40" cy="481.60" r="1.75" fill="#000"/>
<circle cx="95.20" cy="484.50" r="1.75" fill="#000"/>
<circle cx="95.60" cy="487.30" r="1.75" fill="#000"/>
<circle cx="95.90" cy="498.50" r="1.75" fill="#000"/>
<circle cx="96.60" cy="504.30" r="1.75" fill="#000"/>
<circle cx="119.70" cy="503.90" r="1.75" fill="#000"/>
<circle cx="122.60" cy="504.20" r="1.75" fill="#000"/>
<circle cx="123.50" cy="507.00" r="1.75" fill="#000"/>
<circle cx="123.70" cy="510.00" r="1.75" fill="#000"/>
<circle cx="110.10" cy="510.30" r="1.75" fill="#000"/>
<circle cx="110.50" cy="512.40" r="1.75" fill="#000"/>
<circle cx="111.20" cy="514.50" r="1.75" fill="#000"/>
<circle cx="125.40" cy="514.50" r="1.75" fill="#000"/>
<circle cx="131.10" cy="516.00" r="1.75" fill="#000"/>
<circle cx="135.30" cy="516.70" r="1.75" fill="#000"/>
<circle cx="136.00" cy="518.80" r="1.75" fill="#000"/>
<circle cx="136.70" cy="520.60" r="1.75" fill="#000"/>
<circle cx="111.50" cy="522.10" r="1.75" fill="#000"/>
<circle cx="115.50" cy="522.60" r="1.75" fill="#000"/>
<circle cx="119.30" cy="523.80" r="1.75" fill="#000"/>
<circle cx="139.90" cy="524.00" r="1.75" fill="#000"/>
<circle cx="141.00" cy="526.60" r="1.75" fill="#000"/>
<circle cx="125.40" cy="525.90" r="1.75" fill="#000"/>
<circle cx="126.50" cy="526.90" r="1.75" fill="#000"/>
<circle cx="141.70" cy="529.40" r="1.75" fill="#000"/>
<circle cx="142.40" cy="532.30" r="1.75" fill="#000"/>
<circle cx="129.40" cy="531.60" r="1.75" fill="#000"/>
<circle cx="130.50" cy="532.30" r="1.75" fill="#000"/>
<circle cx="142.40" cy="535.50" r="1.75" fill="#000"/>
<circle cx="137.00" cy="535.50" r="1.75" fill="#000"/>
<circle cx="138.20" cy="537.90" r="1.75" fill="#000"/>
<circle cx="156.20" cy="540.40" r="1.75" fill="#000"/>
<circle cx="160.60" cy="540.00" r="1.75" fill="#000"/>
<circle cx="161.60" cy="541.50" r="1.75" fill="#000"/>
<circle cx="162.30" cy="544.40" r="1.75" fill="#000"/>
<circle cx="143.20" cy="544.40" r="1.75" fill="#000"/>
<circle cx="146.10" cy="546.10" r="1.75" fill="#000"/>
<circle cx="153.50" cy="550.00" r="1.75" fill="#000"/>
<circle cx="153.90" cy="551.60" r="1.75" fill="#000"/>
<circle cx="164.90" cy="557.70" r="1.75" fill="#000"/>
<circle cx="167.00" cy="562.40" r="1.75" fill="#000"/>
<circle cx="174.00" cy="563.50" r="1.75" fill="#000"/>
<circle cx="176.20" cy="565.10" r="1.75" fill="#000"/>
<line x1="355.90" y1="571.10" x2="355.90" y2="455.00" stroke="#000" stroke-width="1.2" stroke-linecap="butt"/>
<line x1="350.70" y1="570.50" x2="355.90" y2="570.50" stroke="#000" stroke-width="1.2" stroke-linecap="butt"/>
<text x="349.80" y="573.63" font-size="8.7" font-weight="bold" text-anchor="end" fill="#000" stroke="#000" stroke-width="0.25" >0.0</text>
<line x1="350.70" y1="547.52" x2="355.90" y2="547.52" stroke="#000" stroke-width="1.2" stroke-linecap="butt"/>
<text x="349.80" y="550.65" font-size="8.7" font-weight="bold" text-anchor="end" fill="#000" stroke="#000" stroke-width="0.25" >0.2</text>
<line x1="350.70" y1="524.54" x2="355.90" y2="524.54" stroke="#000" stroke-width="1.2" stroke-linecap="butt"/>
<text x="349.80" y="527.67" font-size="8.7" font-weight="bold" text-anchor="end" fill="#000" stroke="#000" stroke-width="0.25" >0.4</text>
<line x1="350.70" y1="501.56" x2="355.90" y2="501.56" stroke="#000" stroke-width="1.2" stroke-linecap="butt"/>
<text x="349.80" y="504.69" font-size="8.7" font-weight="bold" text-anchor="end" fill="#000" stroke="#000" stroke-width="0.25" >0.6</text>
<line x1="350.70" y1="478.58" x2="355.90" y2="478.58" stroke="#000" stroke-width="1.2" stroke-linecap="butt"/>
<text x="349.80" y="481.71" font-size="8.7" font-weight="bold" text-anchor="end" fill="#000" stroke="#000" stroke-width="0.25" >0.8</text>
<line x1="350.70" y1="455.60" x2="355.90" y2="455.60" stroke="#000" stroke-width="1.2" stroke-linecap="butt"/>
<text x="349.80" y="458.73" font-size="8.7" font-weight="bold" text-anchor="end" fill="#000" stroke="#000" stroke-width="0.25" >1.0</text>
<line x1="355.30" y1="570.50" x2="528.00" y2="570.50" stroke="#000" stroke-width="1.2" stroke-linecap="butt"/>
<line x1="355.90" y1="570.50" x2="355.90" y2="575.10" stroke="#000" stroke-width="1.2" stroke-linecap="butt"/>
<text x="355.90" y="584.10" font-size="8.6" font-weight="bold" text-anchor="middle" fill="#000" stroke="#000" stroke-width="0.25" >0.0</text>
<line x1="390.18" y1="570.50" x2="390.18" y2="575.10" stroke="#000" stroke-width="1.2" stroke-linecap="butt"/>
<text x="390.18" y="584.10" font-size="8.6" font-weight="bold" text-anchor="middle" fill="#000" stroke="#000" stroke-width="0.25" >0.1</text>
<line x1="424.46" y1="570.50" x2="424.46" y2="575.10" stroke="#000" stroke-width="1.2" stroke-linecap="butt"/>
<text x="424.46" y="584.10" font-size="8.6" font-weight="bold" text-anchor="middle" fill="#000" stroke="#000" stroke-width="0.25" >0.2</text>
<line x1="458.74" y1="570.50" x2="458.74" y2="575.10" stroke="#000" stroke-width="1.2" stroke-linecap="butt"/>
<text x="458.74" y="584.10" font-size="8.6" font-weight="bold" text-anchor="middle" fill="#000" stroke="#000" stroke-width="0.25" >0.3</text>
<line x1="493.02" y1="570.50" x2="493.02" y2="575.10" stroke="#000" stroke-width="1.2" stroke-linecap="butt"/>
<text x="493.02" y="584.10" font-size="8.6" font-weight="bold" text-anchor="middle" fill="#000" stroke="#000" stroke-width="0.25" >0.4</text>
<line x1="527.30" y1="570.50" x2="527.30" y2="575.10" stroke="#000" stroke-width="1.2" stroke-linecap="butt"/>
<text x="527.30" y="584.10" font-size="8.6" font-weight="bold" text-anchor="middle" fill="#000" stroke="#000" stroke-width="0.25" >0.5</text>
<text x="441.10" y="599.20" font-size="9.2" font-weight="bold" text-anchor="middle" fill="#000" stroke="#000" stroke-width="0.25" >miR-200a-3p</text>
<text x="331.60" y="513.20" font-size="9.0" font-weight="bold" text-anchor="middle" transform="rotate(-90 331.60 513.20)" fill="#000" stroke="#000" stroke-width="0.25" >NRP1</text>
<text x="370.20" y="460.90" font-size="9.05" text-anchor="start" fill="#000" stroke="#000" stroke-width="0.15" >r= -0.9123,P&lt;0.001</text>
<line x1="363.60" y1="482.10" x2="506.10" y2="527.50" stroke="#222" stroke-width="0.8" stroke-linecap="butt"/>
<circle cx="363.60" cy="479.50" r="1.75" fill="#000"/>
<circle cx="365.50" cy="481.40" r="1.75" fill="#000"/>
<circle cx="367.80" cy="482.10" r="1.75" fill="#000"/>
<circle cx="374.90" cy="483.00" r="1.75" fill="#000"/>
<circle cx="384.40" cy="492.50" r="1.75" fill="#000"/>
<circle cx="386.30" cy="493.70" r="1.75" fill="#000"/>
<circle cx="392.20" cy="493.90" r="1.75" fill="#000"/>
<circle cx="393.80" cy="495.10" r="1.75" fill="#000"/>
<circle cx="394.30" cy="486.60" r="1.75" fill="#000"/>
<circle cx="399.30" cy="489.60" r="1.75" fill="#000"/>
<circle cx="402.10" cy="490.60" r="1.75" fill="#000"/>
<circle cx="404.50" cy="498.60" r="1.75" fill="#000"/>
<circle cx="408.00" cy="494.80" r="1.75" fill="#000"/>
<circle cx="408.50" cy="498.60" r="1.75" fill="#000"/>
<circle cx="413.20" cy="496.30" r="1.75" fill="#000"/>
<circle cx="413.20" cy="501.50" r="1.75" fill="#000"/>
<circle cx="413.50" cy="502.60" r="1.75" fill="#000"/>
<circle cx="415.60" cy="496.00" r="1.75" fill="#000"/>
<circle cx="419.80" cy="496.00" r="1.75" fill="#000"/>
<circle cx="421.70" cy="497.20" r="1.75" fill="#000"/>
<circle cx="421.50" cy="501.90" r="1.75" fill="#000"/>
<circle cx="422.20" cy="503.40" r="1.75" fill="#000"/>
<circle cx="424.60" cy="497.90" r="1.75" fill="#000"/>
<circle cx="424.60" cy="506.90" r="1.75" fill="#000"/>
<circle cx="425.70" cy="509.00" r="1.75" fill="#000"/>
<circle cx="428.10" cy="509.30" r="1.75" fill="#000"/>
<circle cx="428.80" cy="499.60" r="1.75" fill="#000"/>
<circle cx="431.70" cy="499.10" r="1.75" fill="#000"/>
<circle cx="435.90" cy="500.30" r="1.75" fill="#000"/>
<circle cx="437.60" cy="501.00" r="1.75" fill="#000"/>
<circle cx="439.20" cy="504.30" r="1.75" fill="#000"/>
<circle cx="439.20" cy="509.70" r="1.75" fill="#000"/>
<circle cx="442.30" cy="510.40" r="1.75" fill="#000"/>
<circle cx="444.70" cy="511.60" r="1.75" fill="#000"/>
<circle cx="445.80" cy="513.30" r="1.75" fill="#000"/>
<circle cx="446.30" cy="505.00" r="1.75" fill="#000"/>
<circle cx="451.30" cy="505.50" r="1.75" fill="#000"/>
<circle cx="454.10" cy="506.20" r="1.75" fill="#000"/>
<circle cx="453.40" cy="518.70" r="1.75" fill="#000"/>
<circle cx="462.90" cy="523.50" r="1.75" fill="#000"/>
<circle cx="478.50" cy="523.90" r="1.75" fill="#000"/>
<circle cx="483.20" cy="528.70" r="1.75" fill="#000"/>
<circle cx="487.70" cy="515.40" r="1.75" fill="#000"/>
<circle cx="494.80" cy="516.80" r="1.75" fill="#000"/>
<circle cx="505.40" cy="518.30" r="1.75" fill="#000"/>
<line x1="597.50" y1="571.30" x2="597.50" y2="455.10" stroke="#000" stroke-width="1.2" stroke-linecap="butt"/>
<line x1="592.30" y1="570.70" x2="597.50" y2="570.70" stroke="#000" stroke-width="1.2" stroke-linecap="butt"/>
<text x="591.40" y="573.83" font-size="8.7" font-weight="bold" text-anchor="end" fill="#000" stroke="#000" stroke-width="0.25" >0.0</text>
<line x1="592.30" y1="547.70" x2="597.50" y2="547.70" stroke="#000" stroke-width="1.2" stroke-linecap="butt"/>
<text x="591.40" y="550.83" font-size="8.7" font-weight="bold" text-anchor="end" fill="#000" stroke="#000" stroke-width="0.25" >0.2</text>
<line x1="592.30" y1="524.70" x2="597.50" y2="524.70" stroke="#000" stroke-width="1.2" stroke-linecap="butt"/>
<text x="591.40" y="527.83" font-size="8.7" font-weight="bold" text-anchor="end" fill="#000" stroke="#000" stroke-width="0.25" >0.4</text>
<line x1="592.30" y1="501.70" x2="597.50" y2="501.70" stroke="#000" stroke-width="1.2" stroke-linecap="butt"/>
<text x="591.40" y="504.83" font-size="8.7" font-weight="bold" text-anchor="end" fill="#000" stroke="#000" stroke-width="0.25" >0.6</text>
<line x1="592.30" y1="478.70" x2="597.50" y2="478.70" stroke="#000" stroke-width="1.2" stroke-linecap="butt"/>
<text x="591.40" y="481.83" font-size="8.7" font-weight="bold" text-anchor="end" fill="#000" stroke="#000" stroke-width="0.25" >0.8</text>
<line x1="592.30" y1="455.70" x2="597.50" y2="455.70" stroke="#000" stroke-width="1.2" stroke-linecap="butt"/>
<text x="591.40" y="458.83" font-size="8.7" font-weight="bold" text-anchor="end" fill="#000" stroke="#000" stroke-width="0.25" >1.0</text>
<line x1="596.90" y1="570.70" x2="769.40" y2="570.70" stroke="#000" stroke-width="1.2" stroke-linecap="butt"/>
<line x1="597.50" y1="570.70" x2="597.50" y2="575.30" stroke="#000" stroke-width="1.2" stroke-linecap="butt"/>
<line x1="608.92" y1="570.70" x2="608.92" y2="573.30" stroke="#000" stroke-width="1.0" stroke-linecap="butt"/>
<line x1="620.34" y1="570.70" x2="620.34" y2="573.30" stroke="#000" stroke-width="1.0" stroke-linecap="butt"/>
<line x1="631.76" y1="570.70" x2="631.76" y2="573.30" stroke="#000" stroke-width="1.0" stroke-linecap="butt"/>
<line x1="643.18" y1="570.70" x2="643.18" y2="573.30" stroke="#000" stroke-width="1.0" stroke-linecap="butt"/>
<line x1="654.60" y1="570.70" x2="654.60" y2="575.30" stroke="#000" stroke-width="1.2" stroke-linecap="butt"/>
<line x1="666.02" y1="570.70" x2="666.02" y2="573.30" stroke="#000" stroke-width="1.0" stroke-linecap="butt"/>
<line x1="677.44" y1="570.70" x2="677.44" y2="573.30" stroke="#000" stroke-width="1.0" stroke-linecap="butt"/>
<line x1="688.86" y1="570.70" x2="688.86" y2="573.30" stroke="#000" stroke-width="1.0" stroke-linecap="butt"/>
<line x1="700.28" y1="570.70" x2="700.28" y2="573.30" stroke="#000" stroke-width="1.0" stroke-linecap="butt"/>
<line x1="711.70" y1="570.70" x2="711.70" y2="575.30" stroke="#000" stroke-width="1.2" stroke-linecap="butt"/>
<line x1="723.12" y1="570.70" x2="723.12" y2="573.30" stroke="#000" stroke-width="1.0" stroke-linecap="butt"/>
<line x1="734.54" y1="570.70" x2="734.54" y2="573.30" stroke="#000" stroke-width="1.0" stroke-linecap="butt"/>
<line x1="745.96" y1="570.70" x2="745.96" y2="573.30" stroke="#000" stroke-width="1.0" stroke-linecap="butt"/>
<line x1="757.38" y1="570.70" x2="757.38" y2="573.30" stroke="#000" stroke-width="1.0" stroke-linecap="butt"/>
<line x1="768.80" y1="570.70" x2="768.80" y2="575.30" stroke="#000" stroke-width="1.2" stroke-linecap="butt"/>
<text x="597.50" y="584.30" font-size="8.6" font-weight="bold" text-anchor="middle" fill="#000" stroke="#000" stroke-width="0.25" >0.0</text>
<text x="654.60" y="584.30" font-size="8.6" font-weight="bold" text-anchor="middle" fill="#000" stroke="#000" stroke-width="0.25" >0.5</text>
<text x="711.70" y="584.30" font-size="8.6" font-weight="bold" text-anchor="middle" fill="#000" stroke="#000" stroke-width="0.25" >1.0</text>
<text x="768.80" y="584.30" font-size="8.6" font-weight="bold" text-anchor="middle" fill="#000" stroke="#000" stroke-width="0.25" >1.5</text>
<text x="683.20" y="599.00" font-size="9.0" font-weight="bold" text-anchor="middle" fill="#000" stroke="#000" stroke-width="0.25" >XIST</text>
<text x="572.90" y="513.20" font-size="9.0" font-weight="bold" text-anchor="middle" transform="rotate(-90 572.90 513.20)" fill="#000" stroke="#000" stroke-width="0.25" >NRP1</text>
<text x="612.20" y="462.80" font-size="9.05" text-anchor="start" fill="#000" stroke="#000" stroke-width="0.15" >r= 0.8760,P&lt;0.001</text>
<line x1="641.60" y1="518.80" x2="722.30" y2="481.60" stroke="#222" stroke-width="0.8" stroke-linecap="butt"/>
<circle cx="640.80" cy="523.50" r="1.75" fill="#000"/>
<circle cx="641.60" cy="518.80" r="1.75" fill="#000"/>
<circle cx="642.40" cy="515.30" r="1.75" fill="#000"/>
<circle cx="649.70" cy="512.90" r="1.75" fill="#000"/>
<circle cx="649.70" cy="510.10" r="1.75" fill="#000"/>
<circle cx="655.20" cy="509.30" r="1.75" fill="#000"/>
<circle cx="655.70" cy="512.00" r="1.75" fill="#000"/>
<circle cx="657.10" cy="506.10" r="1.75" fill="#000"/>
<circle cx="655.70" cy="516.90" r="1.75" fill="#000"/>
<circle cx="655.70" cy="523.70" r="1.75" fill="#000"/>
<circle cx="655.70" cy="528.60" r="1.75" fill="#000"/>
<circle cx="661.40" cy="506.10" r="1.75" fill="#000"/>
<circle cx="664.70" cy="506.10" r="1.75" fill="#000"/>
<circle cx="664.10" cy="508.80" r="1.75" fill="#000"/>
<circle cx="667.40" cy="508.80" r="1.75" fill="#000"/>
<circle cx="668.20" cy="502.00" r="1.75" fill="#000"/>
<circle cx="670.10" cy="499.80" r="1.75" fill="#000"/>
<circle cx="672.00" cy="499.30" r="1.75" fill="#000"/>
<circle cx="675.00" cy="498.70" r="1.75" fill="#000"/>
<circle cx="676.40" cy="504.70" r="1.75" fill="#000"/>
<circle cx="676.40" cy="506.90" r="1.75" fill="#000"/>
<circle cx="681.00" cy="504.70" r="1.75" fill="#000"/>
<circle cx="682.30" cy="496.60" r="1.75" fill="#000"/>
<circle cx="683.70" cy="503.30" r="1.75" fill="#000"/>
<circle cx="685.10" cy="502.00" r="1.75" fill="#000"/>
<circle cx="685.60" cy="495.20" r="1.75" fill="#000"/>
<circle cx="687.20" cy="498.70" r="1.75" fill="#000"/>
<circle cx="687.80" cy="493.80" r="1.75" fill="#000"/>
<circle cx="688.60" cy="490.30" r="1.75" fill="#000"/>
<circle cx="691.30" cy="480.80" r="1.75" fill="#000"/>
<circle cx="699.20" cy="496.30" r="1.75" fill="#000"/>
<circle cx="701.40" cy="483.00" r="1.75" fill="#000"/>
<circle cx="701.40" cy="486.20" r="1.75" fill="#000"/>
<circle cx="705.50" cy="482.10" r="1.75" fill="#000"/>
<circle cx="706.00" cy="493.60" r="1.75" fill="#000"/>
<circle cx="708.20" cy="493.00" r="1.75" fill="#000"/>
<circle cx="710.40" cy="491.70" r="1.75" fill="#000"/>
<circle cx="712.80" cy="490.80" r="1.75" fill="#000"/>
<circle cx="719.60" cy="489.50" r="1.75" fill="#000"/>
<circle cx="721.80" cy="479.40" r="1.75" fill="#000"/>
<text x="8.80" y="630.80" font-size="10.2" font-weight="bold" textLength="44.00" lengthAdjust="spacingAndGlyphs" fill="#000" stroke="#000" stroke-width="0.3">Figure 4</text>
<text x="56.70" y="630.80" font-size="10.2" textLength="383.80" lengthAdjust="spacingAndGlyphs" fill="#000" stroke="#000" stroke-width="0.3">lncRNA XIST targeted miR-200a-3p to up-regulate NRP1 expression. (<tspan font-weight="bold">A</tspan>) NRP1</text>
<text x="443.00" y="630.80" font-size="10.2" textLength="377.00" lengthAdjust="spacingAndGlyphs" fill="#000" stroke="#000" stroke-width="0.3">expression in cancer tissues and adjacent tissues. The diagnostic AUC of NRP1</text>
<text x="8.60" y="645.50" font-size="10.2" textLength="421.40" lengthAdjust="spacingAndGlyphs" fill="#000" stroke="#000" stroke-width="0.3">was &gt; 0.8. (<tspan font-weight="bold">B</tspan>) Compared with ARPE-19, NRP1 was significantly up-regulated in Y79. (<tspan font-weight="bold">C</tspan>)</text>
<text x="433.00" y="645.50" font-size="10.2" textLength="388.00" lengthAdjust="spacingAndGlyphs" fill="#000" stroke="#000" stroke-width="0.3">NRP1 was significantly down-regulated in high/medium differentiation tissues than</text>
<text x="8.60" y="660.40" font-size="10.2" textLength="419.90" lengthAdjust="spacingAndGlyphs" fill="#000" stroke="#000" stroke-width="0.3">that in low differentiation tissues. (<tspan font-weight="bold">D</tspan>) NRP1 expression after transfection with Y79. (<tspan font-weight="bold">E</tspan>)</text>
<text x="432.00" y="660.40" font-size="10.2" textLength="388.50" lengthAdjust="spacingAndGlyphs" fill="#000" stroke="#000" stroke-width="0.3">Luciferase activity of Y79; (<tspan font-weight="bold">F</tspan>) XIST was negatively correlated with miR-200a-3p (r=</text>
<text x="8.60" y="675.40" font-size="10.2" textLength="422.40" lengthAdjust="spacingAndGlyphs" fill="#000" stroke="#000" stroke-width="0.3">−0.8883, P&lt;0.001). (<tspan font-weight="bold">G</tspan>) MiR-200a-3p was negatively correlated with NRP1 (r= −0.9123,</text>
<text x="435.50" y="675.40" font-size="10.2" textLength="384.00" lengthAdjust="spacingAndGlyphs" fill="#000" stroke="#000" stroke-width="0.3">P&lt;0.001). (<tspan font-weight="bold">H</tspan>) XIST was positively correlated with NRP1 expression (r= 0.8760,</text>
<text x="8.80" y="690.50" font-size="10.2" textLength="44.40" lengthAdjust="spacingAndGlyphs" fill="#000" stroke="#000" stroke-width="0.3">P&lt;0.001).</text>
<text x="8.80" y="705.40" font-size="10.2" font-weight="bold" textLength="29.80" lengthAdjust="spacingAndGlyphs" fill="#000" stroke="#000" stroke-width="0.3">Note:</text>
<text x="43.30" y="702.40" font-size="7.2" textLength="3.20" lengthAdjust="spacingAndGlyphs" fill="#000" stroke="#000" stroke-width="0.3">a</text>
<text x="47.50" y="705.40" font-size="10.2" textLength="85.30" lengthAdjust="spacingAndGlyphs" fill="#000" stroke="#000" stroke-width="0.3">Indicates P&lt;0.001.</text>
</g>
</svg>
</body></html>
